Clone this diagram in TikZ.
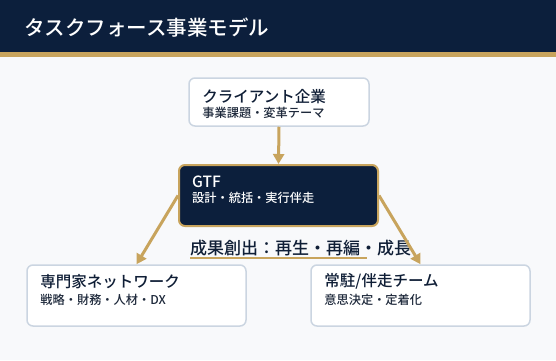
\documentclass[tikz,border=0pt]{standalone}
\usepackage{fontspec}
\setmainfont{Noto Sans CJK JP}[BoldFont={Noto Sans CJK JP Medium}]
\usepackage{tikz}
\usetikzlibrary{arrows.meta, calc}

\definecolor{navy}{HTML}{0C1F3C}
\definecolor{gold}{HTML}{C8A45D}
\definecolor{edge}{HTML}{CBD5E1}
\definecolor{page}{HTML}{F8F9FB}
\definecolor{ink}{HTML}{0F1E36}
\definecolor{subink}{HTML}{1E293B}

\tikzset{
  card/.style={draw=edge, line width=1.5pt, fill=white, rounded corners=6pt},
  hubcard/.style={draw=gold, line width=2pt, fill=navy, rounded corners=6pt},
  head/.style={anchor=west, inner sep=0pt, font=\fontsize{15.5}{15.5}\selectfont\bfseries, text=ink},
  sub/.style={anchor=west, inner sep=0pt, font=\fontsize{12.2}{12.2}\selectfont\bfseries, text=subink},
  flow/.style={draw=gold, line width=3pt, -{Triangle[length=10pt,width=11pt]}}
}

\begin{document}
\begin{tikzpicture}[x=1pt, y=1pt]
    % Page and header band
    \fill[page] (0,0) rectangle (556,360);
    \fill[navy] (0,308) rectangle (556,360);
    \fill[gold] (0,303) rectangle (556,308);
    \node[anchor=west, inner sep=0pt, text=white, font=\fontsize{20.5}{20.5}\selectfont\bfseries] (title) at (24,332) {タスクフォース事業モデル};

    % Client
    \node[card, minimum width=180pt, minimum height=48pt] (client) at (279,258) {};
    \node[head] (clientT) at ([shift={(14,-19)}]client.north west) {クライアント企業};
    \node[sub] (clientS) at ([shift={(14,-36)}]client.north west) {事業課題・変革テーマ};

    % GTF hub
    \node[hubcard, minimum width=199pt, minimum height=61pt] (gtf) at (278.5,164.5) {};
    \node[head, text=white] (gtfT) at ([shift={(14,-18)}]gtf.north west) {GTF};
    \node[sub, text=white] (gtfS) at ([shift={(14,-34)}]gtf.north west) {設計・統括・実行伴走};

    % Outcome line
    \node[anchor=west, inner sep=0pt, text=ink, font=\fontsize{17}{17}\selectfont\bfseries] (outcome) at (190,112) {成果創出：再生・再編・成長};
    \draw[gold, line width=2.5pt] (190,102) -- (367,102);

    % Network and team
    \node[card, minimum width=219pt, minimum height=61pt] (network) at (136.5,64.5) {};
    \node[head] (networkT) at ([shift={(14,-17)}]network.north west) {専門家ネットワーク};
    \node[sub] (networkS) at ([shift={(14,-36)}]network.north west) {戦略・財務・人材・DX};

    \node[card, minimum width=219pt, minimum height=61pt] (team) at (420.5,64.5) {};
    \node[head] (teamT) at ([shift={(14,-17)}]team.north west) {常駐/伴走チーム};
    \node[sub] (teamS) at ([shift={(14,-36)}]team.north west) {意思決定・定着化};

    % Arrows
    \draw[flow] (client.south) -- (gtf.north);
    \draw[flow] (gtf.west) -- (network.north);
    \draw[flow] (gtf.east) -- (team.north);
\end{tikzpicture}
\end{document}
